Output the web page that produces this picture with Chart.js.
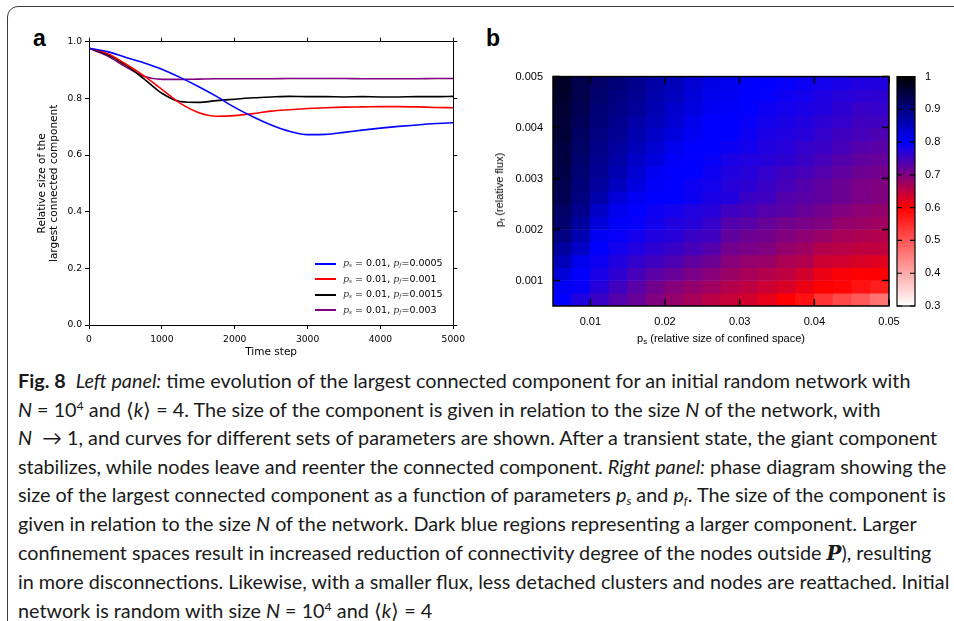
<!DOCTYPE html>
<html>
<head>
<meta charset="utf-8">
<script src="https://cdn.jsdelivr.net/npm/chart.js@4.4.1/dist/chart.umd.min.js"></script>
<style>
    html, body { margin: 0; padding: 0; background: #fff; }
    body { width: 954px; height: 621px; position: relative; overflow: hidden; font-family: 'DejaVu Sans', sans-serif; }
    .frame { position: absolute; left: 7px; top: 6px; width: 1000px; height: 700px; border: 1.5px solid #3c3c3c; border-radius: 11px; }
    .tag { position: absolute; font: bold 23px 'Liberation Sans', Arial, sans-serif; line-height: 1; }
    .box { position: absolute; }
    .legend { position: absolute; left: 315px; top: 255px; font: 9.5px 'DejaVu Sans', sans-serif; color: #000; }
    .legend .row { height: 15.6px; line-height: 15.6px; white-space: nowrap; }
    .legend .sw { display: inline-block; vertical-align: middle; width: 21px; height: 2px; margin-right: 7px; }
    .legend i { font-family: 'DejaVu Serif', serif; color: #333; }
    .legend sub { font-family: 'DejaVu Serif', serif; font-style: italic; font-size: 0.6em; vertical-align: -0.2em; line-height: 0; color: #333; }
    .axt { position: absolute; font: 11px 'Liberation Sans', Arial, sans-serif; color: #000; white-space: nowrap; }
    .axt sub { font-size: 0.72em; vertical-align: -0.3em; line-height: 0; }
    .caption { position: absolute; left: 18px; top: 366px; font: 19.8px Lato, 'Noto Sans', sans-serif; line-height: 28.6px; color: #1a1a1a; white-space: nowrap; }
    .caption sup { font-size: 0.62em; vertical-align: 0.55em; line-height: 0; }
    .caption sub { font-size: 0.62em; vertical-align: -0.25em; line-height: 0; }
    .caption .bp { font-family: 'DejaVu Serif', serif; font-weight: bold; font-style: italic; }
</style>
</head>
<body>
<div class="frame"></div>
<div class="tag" style="left:33px;top:27px">a</div>
<div class="tag" style="left:486px;top:27px">b</div>

<div class="box" style="left:20px;top:30px;width:450px;height:335px"><canvas id="trendChart"></canvas></div>
<div class="legend" id="trendLegend"></div>

<div class="box" style="left:490px;top:60px;width:425px;height:295px"><canvas id="phaseChart"></canvas></div>
<div class="box" style="left:890px;top:60px;width:64px;height:295px"><canvas id="barChart"></canvas></div>
<div class="axt" style="left:721px;top:338px;transform:translate(-50%,-50%)">p<sub>s</sub> (relative size of confined space)</div>
<div class="axt" style="left:499px;top:190px;transform:translate(-50%,-50%) rotate(-90deg)">p<sub>f</sub> (relative flux)</div>

<div class="caption">
<b>Fig. 8</b>&nbsp; <i>Left panel:</i> time evolution of the largest connected component for an initial random network with<br>
<i>N</i> = 10<sup>4</sup> and ⟨<i>k</i>⟩ = 4. The size of the component is given in relation to the size <i>N</i> of the network, with<br>
<i>N</i> &nbsp;→ 1, and curves for different sets of parameters are shown. After a transient state, the giant component<br>
stabilizes, while nodes leave and reenter the connected component. <i>Right panel:</i> phase diagram showing the<br>
size of the largest connected component as a function of parameters <i>p<sub>s</sub></i> and <i>p<sub>f</sub></i>. The size of the component is<br>
given in relation to the size <i>N</i> of the network. Dark blue regions representing a larger component. Larger<br>
confinement spaces result in increased reduction of connectivity degree of the nodes outside <span class="bp">P</span>), resulting<br>
in more disconnections. Likewise, with a smaller flux, less detached clusters and nodes are reattached. Initial<br>
network is random with size <i>N</i> = 10<sup>4</sup> and ⟨<i>k</i>⟩ = 4
</div>

<script>
// panel a: relative size of the largest component over time
const timeSteps = [0, 250, 500, 750, 1000, 1250, 1500, 1750, 2000, 2250, 2500, 2750, 3000, 3250, 3500, 3750, 4000, 4250, 4500, 4750, 5000];
const lccPf0005 = [0.977, 0.965, 0.945, 0.926, 0.903, 0.874, 0.842, 0.807, 0.768, 0.735, 0.706, 0.684, 0.672, 0.673, 0.680, 0.688, 0.695, 0.701, 0.706, 0.711, 0.714];
const lccPf001 = [0.977, 0.958, 0.922, 0.880, 0.832, 0.783, 0.750, 0.737, 0.739, 0.746, 0.755, 0.760, 0.764, 0.767, 0.769, 0.770, 0.771, 0.771, 0.770, 0.768, 0.767];
const lccPf0015 = [0.977, 0.955, 0.918, 0.870, 0.818, 0.789, 0.786, 0.792, 0.797, 0.802, 0.805, 0.807, 0.806, 0.806, 0.805, 0.806, 0.805, 0.805, 0.806, 0.806, 0.807];
const lccPf003 = [0.977, 0.950, 0.912, 0.878, 0.867, 0.867, 0.868, 0.869, 0.869, 0.869, 0.869, 0.870, 0.870, 0.870, 0.870, 0.869, 0.869, 0.869, 0.869, 0.870, 0.870];
const psValue = '0.01';
const pfLabels = ['0.0005', '0.001', '0.0015', '0.003'];
const lineColors = ['#0000ff', '#ff0000', '#000000', '#800080'];

// panel b: phase diagram, rows top (pf=0.005) to bottom (pf=0.0005)
const psCenters = [0.00625, 0.00875, 0.01125, 0.01375, 0.01625, 0.01875, 0.02125, 0.02375, 0.02625,
    0.02875, 0.03125, 0.03375, 0.03625, 0.03875, 0.04125, 0.04375, 0.04625, 0.04875];
const pfCenters = [0.004875, 0.004625, 0.004375, 0.004125, 0.003875, 0.003625, 0.003375, 0.003125, 0.002875,
    0.002625, 0.002375, 0.002125, 0.001875, 0.001625, 0.001375, 0.001125, 0.000875, 0.000625];
const psTicks = [0.01, 0.02, 0.03, 0.04, 0.05];
const pfTicks = [0.001, 0.002, 0.003, 0.004, 0.005];
const lccRows = [
    [0.970, 0.940, 0.920, 0.905, 0.890, 0.870, 0.855, 0.835, 0.820, 0.815, 0.800, 0.800, 0.795, 0.790, 0.785, 0.780, 0.775, 0.775],
    [0.965, 0.940, 0.915, 0.900, 0.885, 0.865, 0.850, 0.830, 0.815, 0.810, 0.800, 0.797, 0.790, 0.785, 0.777, 0.770, 0.767, 0.765],
    [0.960, 0.935, 0.910, 0.895, 0.880, 0.860, 0.840, 0.825, 0.810, 0.805, 0.800, 0.790, 0.785, 0.780, 0.775, 0.765, 0.755, 0.760],
    [0.955, 0.930, 0.905, 0.890, 0.870, 0.855, 0.835, 0.815, 0.800, 0.800, 0.795, 0.785, 0.780, 0.775, 0.765, 0.760, 0.750, 0.750],
    [0.955, 0.925, 0.900, 0.885, 0.865, 0.845, 0.825, 0.810, 0.800, 0.800, 0.790, 0.780, 0.775, 0.770, 0.760, 0.750, 0.745, 0.740],
    [0.950, 0.920, 0.895, 0.875, 0.855, 0.835, 0.815, 0.800, 0.800, 0.790, 0.785, 0.775, 0.770, 0.760, 0.755, 0.745, 0.735, 0.730],
    [0.950, 0.915, 0.890, 0.870, 0.845, 0.825, 0.805, 0.800, 0.795, 0.780, 0.775, 0.770, 0.765, 0.755, 0.745, 0.735, 0.725, 0.720],
    [0.945, 0.910, 0.885, 0.860, 0.835, 0.810, 0.800, 0.800, 0.790, 0.775, 0.770, 0.760, 0.750, 0.745, 0.735, 0.725, 0.715, 0.710],
    [0.940, 0.905, 0.875, 0.850, 0.825, 0.805, 0.800, 0.790, 0.785, 0.770, 0.765, 0.755, 0.745, 0.735, 0.725, 0.715, 0.705, 0.700],
    [0.935, 0.900, 0.865, 0.830, 0.810, 0.800, 0.800, 0.790, 0.780, 0.775, 0.755, 0.750, 0.735, 0.730, 0.725, 0.715, 0.705, 0.700],
    [0.920, 0.890, 0.845, 0.815, 0.800, 0.790, 0.785, 0.775, 0.770, 0.750, 0.745, 0.735, 0.730, 0.720, 0.710, 0.700, 0.690, 0.685],
    [0.915, 0.875, 0.830, 0.805, 0.795, 0.785, 0.775, 0.770, 0.760, 0.735, 0.730, 0.720, 0.710, 0.705, 0.700, 0.685, 0.680, 0.675],
    [0.900, 0.860, 0.810, 0.795, 0.785, 0.775, 0.770, 0.755, 0.750, 0.725, 0.715, 0.710, 0.700, 0.690, 0.680, 0.670, 0.665, 0.660],
    [0.875, 0.845, 0.800, 0.785, 0.775, 0.765, 0.755, 0.745, 0.735, 0.710, 0.705, 0.700, 0.685, 0.675, 0.660, 0.655, 0.650, 0.650],
    [0.855, 0.815, 0.790, 0.775, 0.760, 0.750, 0.740, 0.725, 0.715, 0.695, 0.685, 0.680, 0.665, 0.660, 0.640, 0.635, 0.630, 0.625],
    [0.830, 0.800, 0.780, 0.765, 0.745, 0.730, 0.720, 0.705, 0.695, 0.680, 0.670, 0.660, 0.650, 0.635, 0.615, 0.605, 0.600, 0.600],
    [0.810, 0.795, 0.770, 0.750, 0.730, 0.710, 0.695, 0.685, 0.675, 0.660, 0.650, 0.640, 0.630, 0.615, 0.600, 0.595, 0.580, 0.565],
    [0.800, 0.775, 0.755, 0.735, 0.720, 0.700, 0.685, 0.670, 0.655, 0.645, 0.635, 0.620, 0.600, 0.580, 0.540, 0.515, 0.495, 0.465],
];
const colorbarTicks = [0.3, 0.4, 0.5, 0.6, 0.7, 0.8, 0.9, 1.0];

// gnuplot-like palette: white -> red -> blue -> black
const PALETTE = [[0.3, [255, 255, 255]], [0.6, [255, 0, 0]], [0.8, [0, 0, 255]], [1.0, [0, 0, 0]]];
const AXIS_FONT = { family: "'DejaVu Sans', sans-serif", size: 9.2 };
const HEAT_FONT = { family: "'Liberation Sans', Arial, sans-serif", size: 11 };

function heatColor(v) {
    for (let i = 1; i < PALETTE.length; i++) {
        const [v0, c0] = PALETTE[i - 1];
        const [v1, c1] = PALETTE[i];
        if (v <= v1 || i === PALETTE.length - 1) {
            const t = Math.min(1, Math.max(0, (v - v0) / (v1 - v0)));
            const c = c0.map((a, k) => Math.round(a + (c1[k] - a) * t));
            return `rgb(${c[0]},${c[1]},${c[2]})`;
        }
    }
}

const fixWidth = (w) => (scale) => { scale.width = w; };
const fixHeight = (h) => (scale) => { scale.height = h; };
const useTicks = (values) => (scale) => { scale.ticks = values.map((value) => ({ value })); };

Chart.defaults.animation = false;
Chart.defaults.plugins.tooltip.enabled = false;
Chart.defaults.plugins.legend.display = false;

function renderTrendChart() {
    const el = document.getElementById('trendChart');
    const series = [lccPf0005, lccPf001, lccPf0015, lccPf003];
    const grid = { drawOnChartArea: false, tickLength: 4, color: '#000', lineWidth: 1 };
    const border = { color: '#000', width: 1 };
    new Chart(el.getContext('2d'), {
        type: 'line',
        data: {
            datasets: series.map((s, i) => ({
                label: pfLabels[i],
                data: timeSteps.map((t, k) => ({ x: t, y: s[k] })),
                borderColor: lineColors[i],
                borderWidth: 1.6,
                pointRadius: 0,
                cubicInterpolationMode: 'monotone',
                fill: false,
            })),
        },
        options: {
            responsive: true,
            maintainAspectRatio: false,
            layout: { padding: 0 },
            scales: {
                x: {
                    type: 'linear', position: 'bottom', min: 0, max: 5000,
                    ticks: { stepSize: 1000, font: AXIS_FONT, color: '#000', padding: 5, maxRotation: 0, callback: (v) => String(v) },
                    grid, border,
                    title: { display: true, text: 'Time step', color: '#000', font: { ...AXIS_FONT, size: 10.5 }, padding: { top: 0, bottom: 6 } },
                    afterFit: fixHeight(40),
                },
                x2: {
                    type: 'linear', position: 'top', min: 0, max: 5000,
                    ticks: { stepSize: 1000, display: false },
                    grid, border,
                    afterFit: fixHeight(11.7),
                },
                y: {
                    type: 'linear', position: 'left', min: 0, max: 1,
                    ticks: { stepSize: 0.2, font: AXIS_FONT, color: '#000', padding: 3, callback: (v) => v.toFixed(1) },
                    grid, border,
                    title: {
                        display: true, text: ['Relative size of the', 'largest connected component'], color: '#000',
                        font: { ...AXIS_FONT, size: 10.5, lineHeight: 1.15 }, padding: { top: 16, bottom: 0 },
                    },
                    afterFit: fixWidth(69),
                },
                y2: {
                    type: 'linear', position: 'right', min: 0, max: 1,
                    ticks: { stepSize: 0.2, display: false },
                    grid, border,
                    afterFit: fixWidth(15),
                },
            },
        },
    });

    // legend sits inside the plot, lower right, without a frame
    const legend = document.getElementById('trendLegend');
    pfLabels.forEach((pf, i) => {
        const row = document.createElement('div');
        row.className = 'row';
        row.innerHTML = `<span class="sw" style="background:${lineColors[i]}"></span>` +
            `<i>p</i><sub>s</sub> = ${psValue}, <i>p</i><sub>f</sub>=${pf}`;
        legend.appendChild(row);
    });
}

// draws the frame and the inward tick marks gnuplot puts on every side
const innerTicks = {
    id: 'innerTicks',
    afterDatasetsDraw(chart, args, opts) {
        const { ctx, chartArea: a, scales } = chart;
        const len = opts.length || 7;
        ctx.save();
        ctx.strokeStyle = '#000';
        ctx.lineWidth = opts.width || 1.5;
        ctx.beginPath();
        (opts.xAxis ? scales[opts.xAxis].ticks : []).forEach((t) => {
            const px = scales[opts.xAxis].getPixelForValue(t.value);
            ctx.moveTo(px, a.bottom); ctx.lineTo(px, a.bottom - len);
            ctx.moveTo(px, a.top); ctx.lineTo(px, a.top + len);
        });
        scales[opts.yAxis].ticks.forEach((t) => {
            const py = scales[opts.yAxis].getPixelForValue(t.value);
            ctx.moveTo(a.left, py); ctx.lineTo(a.left + len, py);
            ctx.moveTo(a.right, py); ctx.lineTo(a.right - len, py);
        });
        ctx.stroke();
        ctx.strokeRect(a.left, a.top, a.right - a.left, a.bottom - a.top);
        ctx.restore();
    },
};

function renderPhaseChart() {
    const el = document.getElementById('phaseChart');
    const half = (pfCenters[0] - pfCenters[1]) / 2;
    new Chart(el.getContext('2d'), {
        type: 'bar',
        data: {
            datasets: lccRows.map((row, r) => ({
                data: row.map((v, c) => ({ x: psCenters[c], y: [pfCenters[r] - half, pfCenters[r] + half] })),
                backgroundColor: row.map(heatColor),
                borderWidth: 0,
                grouped: false,
                barPercentage: 1,
                categoryPercentage: 1,
            })),
        },
        options: {
            responsive: true,
            maintainAspectRatio: false,
            layout: { padding: { top: 13, right: 26, bottom: 0, left: 0 } },
            scales: {
                x: {
                    type: 'linear', min: 0.005, max: 0.05, offset: false,
                    ticks: { font: HEAT_FONT, color: '#000', padding: 9, maxRotation: 0, autoSkip: false, callback: (v) => v.toFixed(2) },
                    afterBuildTicks: useTicks(psTicks),
                    grid: { display: false, drawTicks: false },
                    border: { display: false },
                    afterFit: fixHeight(49),
                },
                y: {
                    type: 'linear', min: 0.0005, max: 0.005,
                    ticks: { font: HEAT_FONT, color: '#000', padding: 10, autoSkip: false, callback: (v) => v.toFixed(3) },
                    afterBuildTicks: useTicks(pfTicks),
                    grid: { display: false, drawTicks: false },
                    border: { display: false },
                    afterFit: fixWidth(63),
                },
            },
            plugins: { innerTicks: { xAxis: 'x', yAxis: 'y', length: 7, width: 1.5 } },
        },
        plugins: [innerTicks],
    });
}

const gradientFill = {
    id: 'gradientFill',
    beforeDatasetsDraw(chart) {
        const { ctx, chartArea: a, scales } = chart;
        const y = scales.y;
        const vMin = PALETTE[0][0];
        const vMax = PALETTE[PALETTE.length - 1][0];
        const g = ctx.createLinearGradient(0, y.getPixelForValue(vMin), 0, y.getPixelForValue(vMax));
        PALETTE.forEach(([v, c]) => {
            g.addColorStop((v - vMin) / (vMax - vMin), `rgb(${c[0]},${c[1]},${c[2]})`);
        });
        ctx.save();
        ctx.fillStyle = g;
        ctx.fillRect(a.left, a.top, a.right - a.left, a.bottom - a.top);
        ctx.restore();
    },
};

function renderColorbar() {
    const el = document.getElementById('barChart');
    new Chart(el.getContext('2d'), {
        type: 'bar',
        data: { labels: [''], datasets: [] },
        options: {
            responsive: true,
            maintainAspectRatio: false,
            layout: { padding: { top: 13, left: 7, bottom: 49, right: 0 } },
            scales: {
                x: { display: false },
                y: {
                    position: 'right', min: 0.3, max: 1,
                    ticks: { font: HEAT_FONT, color: '#000', padding: 10, autoSkip: false, callback: (v) => String(+v.toFixed(1)) },
                    afterBuildTicks: useTicks(colorbarTicks),
                    grid: { display: false, drawTicks: false },
                    border: { display: false },
                    afterFit: fixWidth(39),
                },
            },
            plugins: { innerTicks: { yAxis: 'y', length: 5, width: 1.2 } },
        },
        plugins: [gradientFill, innerTicks],
    });
}

renderTrendChart();
renderPhaseChart();
renderColorbar();
</script>
</body>
</html>
